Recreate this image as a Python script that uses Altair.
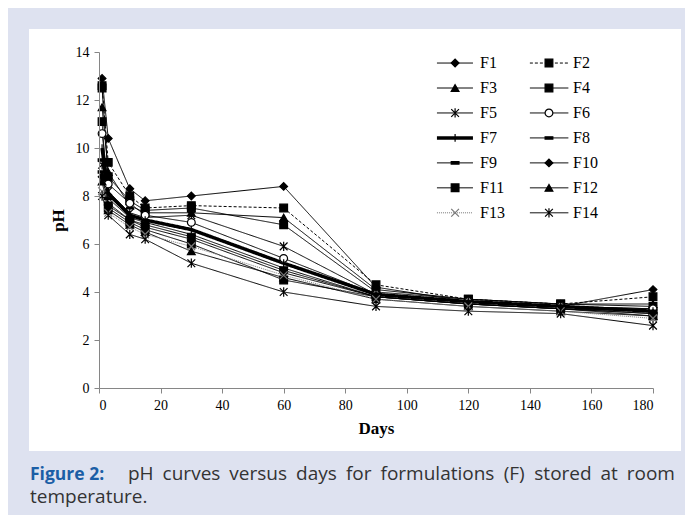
import altair as alt
import pandas as pd

days = [1, 3, 10, 15, 30, 60, 90, 120, 150, 180]
series_names = ["F1", "F2", "F3", "F4", "F5", "F6", "F7",
                "F8", "F9", "F10", "F11", "F12", "F13", "F14"]

F1 = [12.9, 10.4, 8.3, 7.8, 8.0, 8.4, 4.2, 3.6, 3.4, 4.1]
F2 = [12.6, 9.4, 8.0, 7.5, 7.6, 7.5, 4.3, 3.7, 3.5, 3.8]
F3 = [11.7, 9.0, 7.6, 7.3, 7.3, 7.1, 4.1, 3.7, 3.5, 3.5]
F4 = [12.5, 8.8, 7.8, 7.4, 7.5, 6.8, 4.0, 3.7, 3.5, 3.4]
F5 = [9.3, 8.2, 7.3, 7.1, 7.2, 5.9, 3.9, 3.6, 3.4, 3.3]
F6 = [10.6, 8.5, 7.7, 7.2, 6.9, 5.4, 3.9, 3.6, 3.4, 3.3]
F7 = [10.0, 8.1, 7.2, 7.0, 6.6, 5.2, 3.9, 3.6, 3.4, 3.2]
F8 = [9.5, 7.9, 7.1, 6.9, 6.4, 5.0, 3.8, 3.5, 3.3, 3.2]
F9 = [9.0, 7.7, 7.0, 6.8, 6.3, 4.9, 3.8, 3.5, 3.3, 3.1]
F10 = [8.8, 7.6, 7.0, 6.7, 6.2, 4.8, 3.8, 3.5, 3.3, 3.1]
F11 = [11.1, 7.5, 6.9, 6.6, 6.0, 4.5, 3.8, 3.5, 3.3, 3.0]
F12 = [8.6, 7.4, 6.8, 6.5, 5.7, 4.6, 3.7, 3.4, 3.2, 3.0]
F13 = [8.2, 7.3, 6.7, 6.4, 5.9, 4.7, 3.7, 3.4, 3.2, 2.9]
F14 = [8.0, 7.2, 6.4, 6.2, 5.2, 4.0, 3.4, 3.2, 3.1, 2.6]
all_series = [F1, F2, F3, F4, F5, F6, F7, F8, F9, F10, F11, F12, F13, F14]

x_ticks = [0, 20, 40, 60, 80, 100, 120, 140, 160, 180]
y_ticks = [0, 2, 4, 6, 8, 10, 12, 14]

caption_bold = "Figure 2:"
caption_words = ["pH", "curves", "versus", "days", "for", "formulations",
                 "(F)", "stored", "at", "room"]
caption_line2 = "temperature."

rows = []
for name, vals in zip(series_names, all_series):
    for d, v in zip(days, vals):
        rows.append({"series": name, "day": d, "pH": v})
df = pd.DataFrame(rows)

legend_df = pd.DataFrame({"series": series_names, "idx": list(range(14))})

# justified caption line: approximate glyph widths (em) for Open Sans
CW = {"p": .61, "H": .74, "c": .48, "u": .61, "r": .41, "v": .5, "e": .56,
      "s": .48, "d": .61, "a": .56, "y": .5, "f": .34, "o": .6, "m": .93,
      "l": .26, "t": .35, "i": .26, "n": .61, "(": .3, ")": .3, "F": .54}
CAP_FS = 19
widths = [sum(CW.get(ch, .55) for ch in w) * CAP_FS for w in caption_words]
start_px, end_px = 29, 576
gap = (end_px - start_px - sum(widths)) / (len(caption_words) - 1)
xs, cur = [], start_px
for w in widths:
    xs.append(cur)
    cur += w + gap
cap_words_df = pd.DataFrame({"word": caption_words, "px": xs})

DIAMOND = "diamond"
SQUARE = "square"
TRI = "triangle-up"
ASTER = "M-1,-1L1,1M-1,1L1,-1M0,-1.2L0,1.2"
XSHAPE = "M-1,-1L1,1M-1,1L1,-1"
VTICK = "M0,-1L0,1"
DASH = "M-1,-0.3L1,-0.3L1,0.3L-1,0.3Z"

shape_scale = alt.Scale(domain=series_names, range=[
    DIAMOND, SQUARE, TRI, SQUARE, ASTER, "circle", VTICK,
    DASH, DASH, DIAMOND, SQUARE, TRI, XSHAPE, ASTER])
fill_scale = alt.Scale(domain=series_names, range=[
    "black", "black", "black", "black", "transparent", "white", "transparent",
    "black", "black", "black", "black", "black", "transparent", "transparent"])
stroke_scale = alt.Scale(domain=series_names, range=[
    "black"] * 12 + ["#777777", "black"])
size_scale = alt.Scale(domain=series_names, range=[
    60, 60, 60, 60, 55, 50, 110, 25, 45, 60, 75, 60, 50, 60])
dash_scale = alt.Scale(domain=series_names, range=[
    [1, 0], [3, 2], [1, 0], [1, 0], [1, 0], [1, 0], [1, 0],
    [1, 0], [1, 0], [1, 0], [1, 0], [1, 0], [1, 1], [1, 0]])

serif = "Liberation Serif"
axis_common = dict(grid=False, zindex=1, domainColor="#868686",
                   tickColor="#868686", tickSize=5, labelFont=serif,
                   labelFontSize=14, labelColor="black", titleFont=serif,
                   titleFontSize=17, titleFontWeight="bold", titleColor="black",
                   labelPadding=5, titlePadding=8)

x_enc = alt.X("day:Q", scale=alt.Scale(domain=[0, 180], nice=False),
              axis=alt.Axis(values=x_ticks, title="Days", **axis_common))
y_enc = alt.Y("pH:Q", scale=alt.Scale(domain=[0, 14], nice=False),
              axis=alt.Axis(values=y_ticks, title="pH", **axis_common))

one = pd.DataFrame({"a": [0]})
panel = alt.Chart(one).mark_rect(color="white", clip=False).encode(
    x=alt.value(-70), x2=alt.value(582), y=alt.value(-23), y2=alt.value(399))

line_enc = dict(
    detail="series:N",
    stroke=alt.Stroke("series:N", scale=stroke_scale, legend=None),
    strokeDash=alt.StrokeDash("series:N", scale=dash_scale, legend=None),
)
lines_thin = alt.Chart(df).transform_filter(
    "datum.series != 'F7'").mark_line(strokeWidth=1).encode(
    x=x_enc, y=y_enc, **line_enc)
lines_thick = alt.Chart(df).transform_filter(
    "datum.series == 'F7'").mark_line(strokeWidth=3.5).encode(
    x="day:Q", y="pH:Q", **line_enc)

point_enc = dict(
    shape=alt.Shape("series:N", scale=shape_scale, legend=None),
    fill=alt.Fill("series:N", scale=fill_scale, legend=None),
    stroke=alt.Stroke("series:N", scale=stroke_scale, legend=None),
    size=alt.Size("series:N", scale=size_scale, legend=None),
)
points = alt.Chart(df).mark_point(filled=False, opacity=1, strokeWidth=1.2).encode(
    x="day:Q", y="pH:Q", **point_enc)

leg_base = alt.Chart(legend_df).transform_calculate(
    col="datum.idx % 2", row="floor(datum.idx / 2)"
).transform_calculate(
    lx1="109.8 + datum.col * 30.2",
    lx2="121.5 + datum.col * 31.0",
    lm="115.7 + datum.col * 30.5",
    lt="123.8 + datum.col * 30.2",
    ly="13.54 - datum.row * 1.04",
)

leg_lines_thin = leg_base.transform_filter(
    "datum.series != 'F7'").mark_rule(strokeWidth=1).encode(
    x=alt.X("lx1:Q"), x2="lx2:Q", y=alt.Y("ly:Q"), **line_enc)
leg_lines_thick = leg_base.transform_filter(
    "datum.series == 'F7'").mark_rule(strokeWidth=3.5).encode(
    x=alt.X("lx1:Q"), x2="lx2:Q", y=alt.Y("ly:Q"), **line_enc)
leg_points = leg_base.mark_point(filled=False, opacity=1, strokeWidth=1.2).encode(
    x="lm:Q", y="ly:Q", **point_enc)
leg_text = leg_base.mark_text(align="left", baseline="middle", font=serif,
                              fontSize=16, color="black").encode(
    x="lt:Q", y="ly:Q", text="series:N")

cap1 = alt.Chart(one).mark_text(
    align="left", baseline="alphabetic", font="Open Sans", fontSize=17.5,
    fontWeight="bold", color="#1b5ea6").encode(
    x=alt.value(-69), y=alt.value(428), text=alt.value(caption_bold))
cap2 = alt.Chart(cap_words_df).mark_text(
    align="left", baseline="alphabetic", font="Open Sans", fontSize=CAP_FS,
    color="#333333").encode(
    x=alt.X("px:Q", scale=None), y=alt.value(428), text="word:N")
cap3 = alt.Chart(one).mark_text(
    align="left", baseline="alphabetic", font="Open Sans", fontSize=CAP_FS,
    color="#333333").encode(
    x=alt.value(-69), y=alt.value(451), text=alt.value(caption_line2))

chart = alt.layer(
    panel, lines_thin, lines_thick, points,
    leg_lines_thin, leg_lines_thick, leg_points, leg_text, cap1, cap2, cap3
).properties(
    width=554, height=336,
    autosize=alt.AutoSizeParams(type="none"),
    padding={"left": 91, "top": 44, "right": 32, "bottom": 127},
    background="#dee2f0",
).configure_view(stroke=None)

chart.save("out.html", embed_options={"renderer": "svg", "actions": False})
